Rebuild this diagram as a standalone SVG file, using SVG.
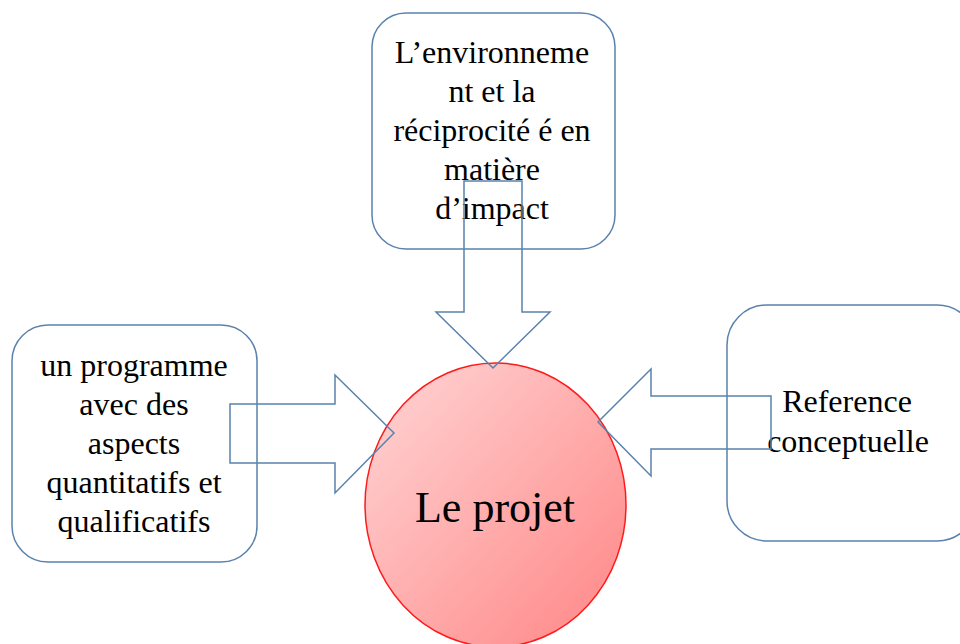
<svg xmlns="http://www.w3.org/2000/svg" width="960" height="644" viewBox="0 0 960 644">
<style>
.box{fill:#ffffff;stroke:#5a82ad;stroke-width:1.5}
.arrow{fill:none;stroke:#5a82ad;stroke-width:1.5;stroke-linejoin:miter}
.t{font-family:"Liberation Serif","Times New Roman",serif;font-size:32px;fill:#000;text-anchor:middle}
.big{font-size:44px}
</style>
<defs>
<linearGradient id="g" x1="0" y1="0" x2="1" y2="1">
<stop offset="0" stop-color="#ffd6d6"/>
<stop offset="1" stop-color="#ff8585"/>
</linearGradient>
</defs>
<rect width="960" height="644" fill="#ffffff"/>
<g id="node-top">
<rect class="box" x="372" y="13" width="243" height="236" rx="34" ry="34"/>
<text class="t" x="492" y="63">L’environneme</text>
<text class="t" x="492" y="102">nt et la</text>
<text class="t" x="492" y="141">réciprocité é en</text>
<text class="t" x="492" y="180">matière</text>
<text class="t" x="492" y="219">d’impact</text>
</g>
<g id="node-left">
<rect class="box" x="12" y="325" width="245" height="237" rx="36" ry="36"/>
<text class="t" x="134" y="376">un programme</text>
<text class="t" x="134" y="415">avec des</text>
<text class="t" x="134" y="454">aspects</text>
<text class="t" x="134" y="493">quantitatifs et</text>
<text class="t" x="134" y="532">qualificatifs</text>
</g>
<g id="node-right">
<rect class="box" x="727" y="305" width="250" height="236" rx="40" ry="40"/>
<text class="t" x="847" y="412">Reference</text>
<text class="t" x="848" y="452">conceptuelle</text>
</g>
<g id="node-center">
<ellipse cx="495.5" cy="505" rx="130.5" ry="142" fill="url(#g)" stroke="#ff1a1a" stroke-width="1.5"/>
<text class="t big" x="495" y="522">Le projet</text>
</g>
<g id="connectors">
<polygon class="arrow" points="464,181 522,181 522,312 550,312 493,368 436,312 464,312"/>
<polygon class="arrow" points="230,404 335,404 335,375 394,433 335,493 335,463 230,463"/>
<polygon class="arrow" points="771,396 651,396 651,369 598,422 651,476 651,449 771,449"/>
</g>
</svg>
